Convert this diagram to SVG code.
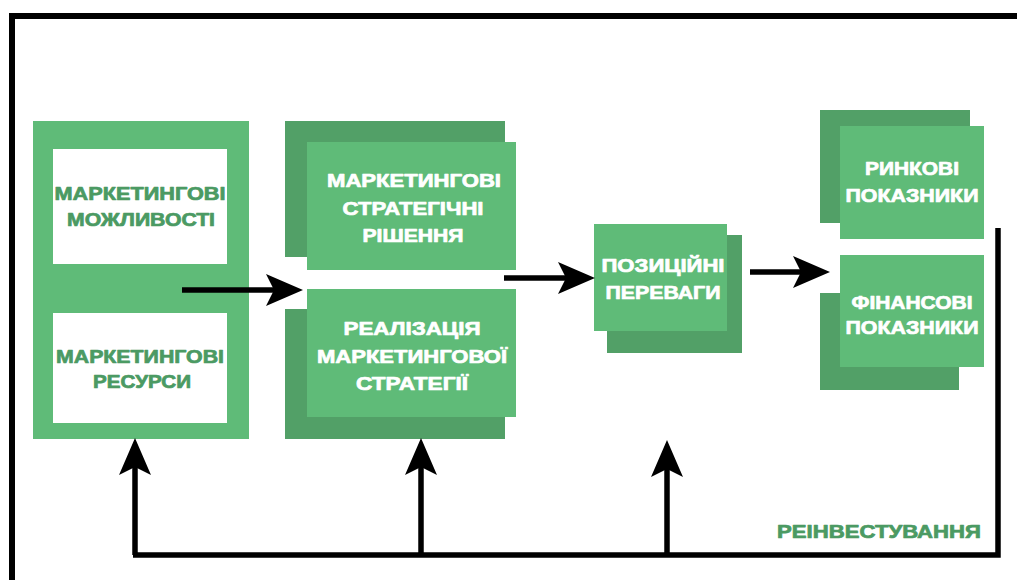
<svg xmlns="http://www.w3.org/2000/svg" width="1017" height="580" viewBox="0 0 1017 580">
<style>
.g{fill:#5fbb78}
.d{fill:#52a067}
.w{fill:#ffffff}
.t{font-family:"Liberation Sans",Arial,sans-serif;font-weight:bold;font-size:18px;text-anchor:middle;stroke-width:0.7px;stroke-linejoin:round}
.tw{fill:#ffffff;stroke:#ffffff}
.tg{fill:#4b9a63;stroke:#4b9a63}
.ln{stroke:#000;stroke-width:5.5;fill:none}
</style>
<defs>
<marker id="ah" markerUnits="userSpaceOnUse" markerWidth="40" markerHeight="34" refX="16" refY="16" orient="auto">
<path d="M0,0 L37,16 L0,32 L8,16 Z" fill="#000"/>
</marker>
</defs>
<rect width="1017" height="580" fill="#fff"/>
<g id="frame">
<path d="M12,580 V16 H1017" stroke="#000" stroke-width="6" fill="none"/>
</g>
<g id="node-left">
<rect class="g" x="33" y="121" width="216" height="318"/>
<rect class="w" x="53" y="149" width="174" height="115"/>
<rect class="w" x="53" y="313" width="174" height="110"/>
<text class="t tg" x="140" y="200" textLength="171" lengthAdjust="spacingAndGlyphs">МАРКЕТИНГОВІ</text>
<text class="t tg" x="141" y="226" textLength="148" lengthAdjust="spacingAndGlyphs">МОЖЛИВОСТІ</text>
<text class="t tg" x="140" y="363" textLength="168" lengthAdjust="spacingAndGlyphs">МАРКЕТИНГОВІ</text>
<text class="t tg" x="142" y="388" textLength="98" lengthAdjust="spacingAndGlyphs">РЕСУРСИ</text>
</g>
<g id="node-strategy">
<rect class="d" x="285" y="121" width="220" height="136"/>
<rect class="g" x="307" y="142" width="209" height="128"/>
<text class="t tw" x="414" y="187" textLength="174" lengthAdjust="spacingAndGlyphs">МАРКЕТИНГОВІ</text>
<text class="t tw" x="413" y="215" textLength="141" lengthAdjust="spacingAndGlyphs">СТРАТЕГІЧНІ</text>
<text class="t tw" x="413" y="242" textLength="101" lengthAdjust="spacingAndGlyphs">РІШЕННЯ</text>
</g>
<g id="node-realization">
<rect class="d" x="285" y="309" width="220" height="130"/>
<rect class="g" x="307" y="289" width="209" height="128"/>
<text class="t tw" x="412" y="335" textLength="137" lengthAdjust="spacingAndGlyphs">РЕАЛІЗАЦІЯ</text>
<text class="t tw" x="412" y="363" textLength="190" lengthAdjust="spacingAndGlyphs">МАРКЕТИНГОВОЇ</text>
<text class="t tw" x="412" y="390" textLength="112" lengthAdjust="spacingAndGlyphs">СТРАТЕГІЇ</text>
</g>
<g id="node-position">
<rect class="d" x="607" y="235" width="135" height="118"/>
<rect class="g" x="594" y="224" width="133" height="107"/>
<text class="t tw" x="663" y="272" textLength="123" lengthAdjust="spacingAndGlyphs">ПОЗИЦІЙНІ</text>
<text class="t tw" x="663" y="299" textLength="115" lengthAdjust="spacingAndGlyphs">ПЕРЕВАГИ</text>
</g>
<g id="node-market">
<rect class="d" x="820" y="110" width="150" height="113"/>
<rect class="g" x="840" y="126" width="144" height="113"/>
<text class="t tw" x="912" y="175" textLength="94" lengthAdjust="spacingAndGlyphs">РИНКОВІ</text>
<text class="t tw" x="912" y="202" textLength="133" lengthAdjust="spacingAndGlyphs">ПОКАЗНИКИ</text>
</g>
<g id="node-finance">
<rect class="d" x="820" y="293" width="139" height="97"/>
<rect class="g" x="840" y="255" width="144" height="112"/>
<text class="t tw" x="912" y="309" textLength="121" lengthAdjust="spacingAndGlyphs">ФІНАНСОВІ</text>
<text class="t tw" x="912" y="334" textLength="133" lengthAdjust="spacingAndGlyphs">ПОКАЗНИКИ</text>
</g>
<g id="label-reinvest">
<text class="t tg" x="879" y="538" textLength="204" lengthAdjust="spacingAndGlyphs">РЕІНВЕСТУВАННЯ</text>
</g>
<g id="connectors">
<line class="ln" x1="182" y1="290" x2="282" y2="290" marker-end="url(#ah)"/>
<line class="ln" x1="504" y1="278" x2="574" y2="278" marker-end="url(#ah)"/>
<line class="ln" x1="750" y1="272" x2="809" y2="272" marker-end="url(#ah)"/>
<path class="ln" d="M998,228 V555 H133" stroke-linejoin="miter"/>
<line class="ln" x1="135" y1="555" x2="135" y2="459" marker-end="url(#ah)"/>
<line class="ln" x1="421" y1="555" x2="421" y2="459" marker-end="url(#ah)"/>
<line class="ln" x1="667" y1="555" x2="667" y2="461" marker-end="url(#ah)"/>
</g>
</svg>
